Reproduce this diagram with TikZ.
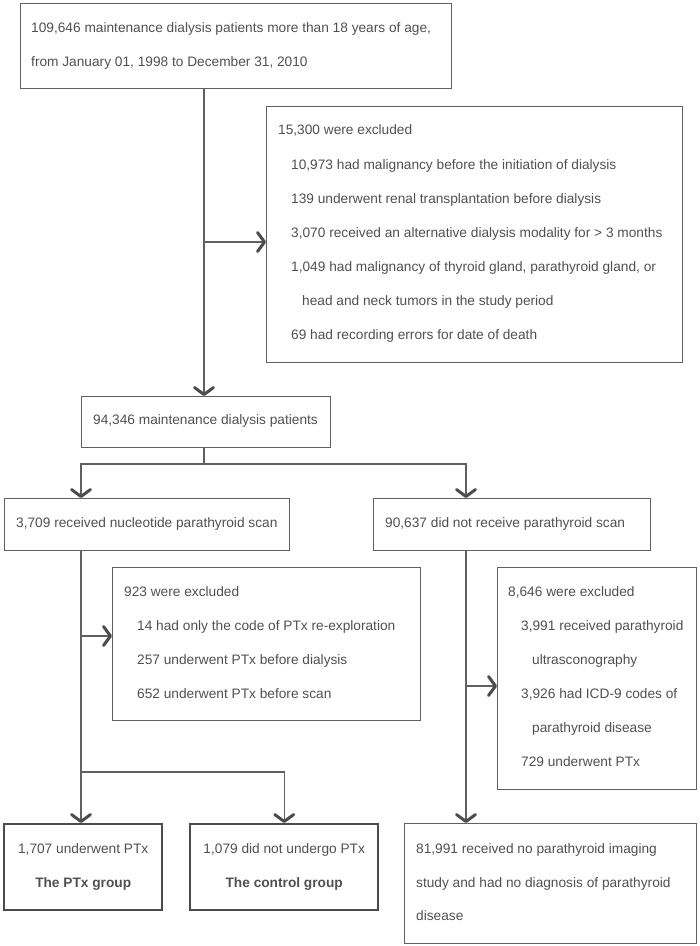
\documentclass[tikz,border=0pt]{standalone}
\usepackage{fontspec}
\setmainfont{Liberation Sans}
\usetikzlibrary{arrows.meta}
\definecolor{ln}{HTML}{606060}
\definecolor{ah}{HTML}{4C4C4C}
\definecolor{tx}{HTML}{505050}
\begin{document}
\begin{tikzpicture}[x=1pt,y=-1pt,
  box/.style={draw=ln, line width=1.2pt, rectangle, inner sep=0pt, anchor=north west},
  gbox/.style={box, draw=ah, line width=2.4pt},
  txt/.style={anchor=base west, inner sep=0pt, text=tx, font=\fontsize{13.7}{16}\selectfont},
  ctxt/.style={txt, anchor=base},
  conn/.style={draw=ln, line width=1.3pt},
  arr/.style={conn, -{Straight Barb[length=7pt,width=19pt,line width=3pt,round,color=ah]}}
]
\useasboundingbox (0,0) rectangle (700,946);

% boxes
\node[box, minimum width=431pt, minimum height=85pt] (top) at (20,3) {};
\node[box, minimum width=416pt, minimum height=256pt] (ex1) at (266,106) {};
\node[box, minimum width=249pt, minimum height=51pt] (mid) at (81,396) {};
\node[box, minimum width=285pt, minimum height=52pt] (scan) at (4,498) {};
\node[box, minimum width=277pt, minimum height=52pt] (noscan) at (373,498) {};
\node[box, minimum width=308pt, minimum height=153pt] (ex2) at (112,567) {};
\node[box, minimum width=199pt, minimum height=222pt] (ex3) at (497,567) {};
\node[gbox, minimum width=158pt, minimum height=86pt] (ptx) at (3,823) {};
\node[gbox, minimum width=188pt, minimum height=86pt] (ctrl) at (189,823) {};
\node[box, minimum width=292pt, minimum height=120pt] (none) at (404,823) {};

% texts
\node[txt] (t1) at (31,32) {109,646 maintenance dialysis patients more than 18 years of age,};
\node[txt] (t2) at (31,66) {from January 01, 1998 to December 31, 2010};

\node[txt] (e1) at (278,134) {15,300 were excluded};
\node[txt] (e2) at (291,169) {10,973 had malignancy before the initiation of dialysis};
\node[txt] (e3) at (291,203) {139 underwent renal transplantation before dialysis};
\node[txt] (e4) at (291,237) {3,070 received an alternative dialysis modality for > 3 months};
\node[txt] (e5) at (291,271) {1,049 had malignancy of thyroid gland, parathyroid gland, or};
\node[txt] (e6) at (302,305) {head and neck tumors in the study period};
\node[txt] (e7) at (291,339) {69 had recording errors for date of death};

\node[ctxt] (m1) at (205.5,424) {94,346 maintenance dialysis patients};
\node[txt] (s1) at (16,527) {3,709 received nucleotide parathyroid scan};
\node[txt] (n1) at (385,527) {90,637 did not receive parathyroid scan};

\node[txt] (f1) at (124,596) {923 were excluded};
\node[txt] (f2) at (137,630) {14 had only the code of PTx re-exploration};
\node[txt] (f3) at (137,664) {257 underwent PTx before dialysis};
\node[txt] (f4) at (137,698) {652 underwent PTx before scan};

\node[txt] (g1) at (508,596) {8,646 were excluded};
\node[txt] (g2) at (521,630) {3,991 received parathyroid};
\node[txt] (g3) at (532,664) {ultrasconography};
\node[txt] (g4) at (521,698) {3,926 had ICD-9 codes of};
\node[txt] (g5) at (532,732) {parathyroid disease};
\node[txt] (g6) at (521,766) {729 underwent PTx};

\node[ctxt] (p1) at (ptx.center |- 0,853) {1,707 underwent PTx};
\node[ctxt, font=\fontsize{13.7}{16}\selectfont\bfseries] (p2) at (ptx.center |- 0,887) {The PTx group};
\node[ctxt] (c1) at (ctrl.center |- 0,853) {1,079 did not undergo PTx};
\node[ctxt, font=\fontsize{13.7}{16}\selectfont\bfseries] (c2) at (ctrl.center |- 0,887) {The control group};

\node[txt] (r1) at (416,853) {81,991 received no parathyroid imaging};
\node[txt] (r2) at (416,887) {study and had no diagnosis of parathyroid};
\node[txt] (r3) at (416,920) {disease};

% connectors
\coordinate (cx) at (204,0);
\coordinate (j1) at (204,242);
\draw[arr] (top.south -| cx) -- (mid.north -| cx);
\draw[arr] (j1) -- (ex1.west |- j1);

\coordinate (lx) at (81,0);
\coordinate (rx) at (466,0);
\coordinate (j2) at (204,464);
\draw[conn] (mid.south -| cx) -- (j2);
\draw[arr] (j2) -| (scan.north -| lx);
\draw[arr] (j2) -| (noscan.north -| rx);

\coordinate (j3) at (81,636);
\coordinate (j4) at (81,772);
\draw[arr] (scan.south -| lx) -- (ptx.north -| lx);
\draw[arr] (j3) -- (ex2.west |- j3);
\draw[arr] (j4) -| (ctrl.north);

\coordinate (j5) at (466,686);
\draw[arr] (noscan.south -| rx) -- (none.north -| rx);
\draw[arr] (j5) -- (ex3.west |- j5);
\end{tikzpicture}
\end{document}
